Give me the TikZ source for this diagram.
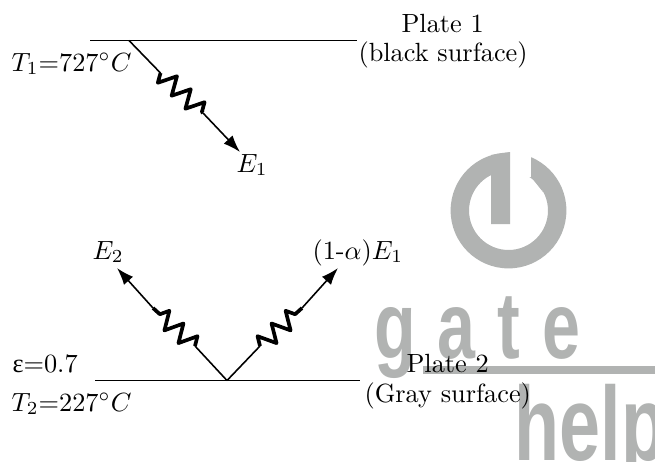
\documentclass[tikz,border=0pt]{standalone}
\usepackage{amsmath}
\usepackage{fontspec}
\usetikzlibrary{decorations.pathmorphing}
\usetikzlibrary{arrows.meta}
\newfontfamily\gatefont[LetterSpace=32]{Liberation Sans Bold}
\newfontfamily\helpfont{Liberation Sans Bold}
\newfontfamily\epsfont{Liberation Serif}
\definecolor{markgray}{HTML}{B1B3B2}
\begin{document}
\begin{tikzpicture}[x=0.38pt, y=-0.38pt, plate/.style = {line width=0.7pt}, ray/.style = {line width=0.6pt}, tipray/.style = {ray, -{Latex[length=6.5pt, width=4.6pt]}}, wave/.style = {line width=1.4pt, line join=round, decorate, decoration={zigzag, segment length=7.2pt, amplitude=3.4pt}}, wavetwo/.style = {wave, decoration={mirror, zigzag, segment length=7.2pt, amplitude=3.4pt}}, label/.style = {inner sep=0pt, anchor=base west}, wmark/.style = {inner sep=0pt, anchor=base west, text=markgray}]
        \useasboundingbox (0,0) rectangle (655,461);
        \clip (0,0) rectangle (655,461);
        % watermark
        \coordinate (c) at (508.5,210.5);
        \fill[markgray, even odd rule] (c) circle [radius=22pt] (c) circle [radius=15pt];
        \fill[white] (510,148) rectangle (531,177);
        \fill[markgray] (491,155) -- (510,152) -- (510,224) -- (491,224) -- cycle;
        \fill[markgray] (531,177) -- (543,192) -- (540,182) -- cycle;
        \node[wmark] (gate) at (374,358) {\scalebox{0.72}[1]{\fontsize{36pt}{40pt}\gatefont gate}};
        \fill[markgray] (423,366) rectangle (655,374);
        \node[wmark] (help) at (514,460) {\scalebox{0.7}[1]{\fontsize{40pt}{42pt}\helpfont help}};
        % plate 1
        \coordinate (a1) at (90,40.5);
        \coordinate (a2) at (357,40.5);
        \coordinate (o1) at (129,40.5);
        \coordinate (s1) at (160.5,73);
        \coordinate (t1) at (203,113);
        \coordinate (e1) at (240,152);
        \draw[plate] (a1) -- (a2);
        \draw[ray] (o1) -- (s1);
        \draw[wavetwo] (s1) -- (t1);
        \draw[tipray] (t1) -- (e1);
        % plate 2
        \coordinate (b1) at (95,380.5);
        \coordinate (b2) at (360,380.5);
        \coordinate (o2) at (227,380.5);
        \coordinate (s2) at (195,346);
        \coordinate (t2) at (153,308);
        \coordinate (e2) at (117,268);
        \coordinate (s3) at (260,346);
        \coordinate (t3) at (302,308);
        \coordinate (e3) at (338,268);
        \draw[plate] (b1) -- (b2);
        \draw[ray] (o2) -- (s2);
        \draw[wavetwo] (s2) -- (t2);
        \draw[tipray] (t2) -- (e2);
        \draw[ray] (o2) -- (s3);
        \draw[wave] (s3) -- (t3);
        \draw[tipray] (t3) -- (e3);
        % labels
        \node[label] (plate1) at (401,32) {Plate 1};
        \node[label] (black) at (358,61) {(black surface)};
        \node[label] (temp1) at (11,71) {$T_1$=727$^\circ C$};
        \node[label] (en1) at (236,172) {$E_1$};
        \node[label] (en2) at (92,259) {$E_2$};
        \node[label] (refl) at (312,259) {(1-$\alpha)E_1$};
        \node[label] (eps) at (12,372) {{\epsfont ε}=0.7};
        \node[label] (temp2) at (11,411) {$T_2$=227$^\circ C$};
        \node[label] (plate2) at (406,372) {Plate 2};
        \node[label] (gray) at (364,402) {(Gray surface)};
    \end{tikzpicture}
\end{document}
